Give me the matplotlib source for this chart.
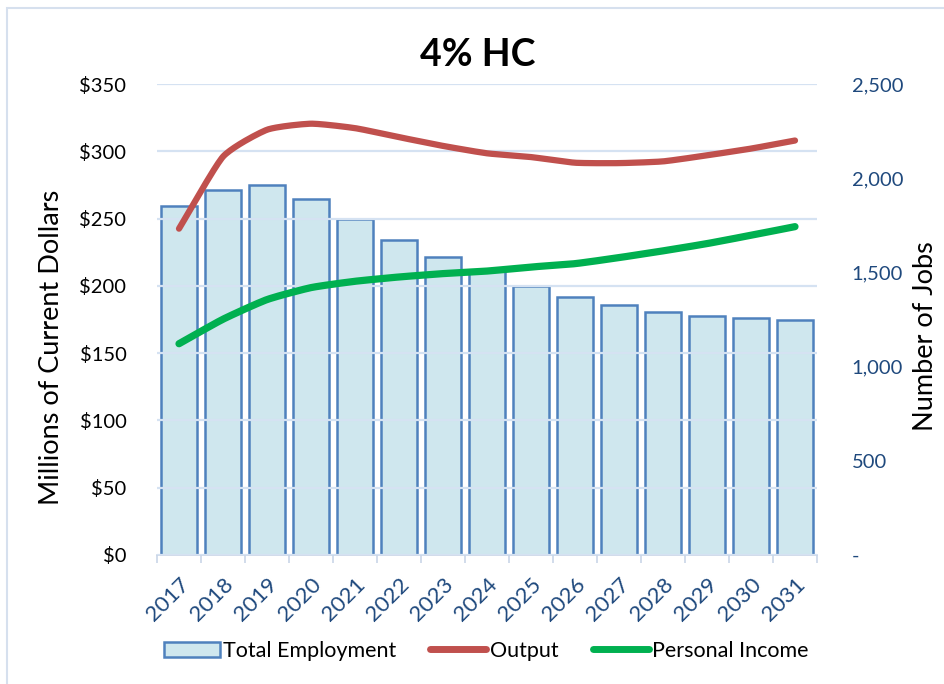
import numpy as np
import matplotlib
matplotlib.use("Agg")
import matplotlib.pyplot as plt
from matplotlib.patches import Rectangle, Patch
from matplotlib.lines import Line2D
from matplotlib.ticker import FuncFormatter, MultipleLocator

plt.rcParams['font.family'] = ['Lato', 'DejaVu Sans']

years = [str(y) for y in range(2017, 2032)]
employment = [1854, 1937, 1962, 1890, 1785, 1672, 1582, 1505, 1429, 1371, 1327, 1290, 1270, 1260, 1249]
output = [242.5, 296, 316, 320.5, 317.2, 310.5, 304, 298.5, 295.7, 291.5, 291.2, 292.5, 297, 302, 308]
income = [157, 175.2, 189.8, 198.7, 203.4, 206.6, 209.1, 211, 214, 216.5, 221, 226, 231.4, 237.6, 244]

title = "4% HC"
left_label = "Millions of Current Dollars"
right_label = "Number of Jobs"


def smooth(xs, ys, n=20, k=0.55):
    # cubic Hermite rendering of a line through the given points (reduced tension)
    xs = np.asarray(xs, float)
    ys = np.asarray(ys, float)
    px = np.concatenate([[2 * xs[0] - xs[1]], xs, [2 * xs[-1] - xs[-2]]])
    py = np.concatenate([[2 * ys[0] - ys[1]], ys, [2 * ys[-1] - ys[-2]]])
    ox, oy = [], []
    t = np.linspace(0, 1, n, endpoint=False)
    h00 = 2 * t ** 3 - 3 * t ** 2 + 1
    h10 = t ** 3 - 2 * t ** 2 + t
    h01 = -2 * t ** 3 + 3 * t ** 2
    h11 = t ** 3 - t ** 2
    for i in range(1, len(px) - 2):
        for arr, out in ((px, ox), (py, oy)):
            p0, p1, p2, p3 = arr[i - 1], arr[i], arr[i + 1], arr[i + 2]
            m1 = k * (p2 - p0) / 2
            m2 = k * (p3 - p1) / 2
            out.extend(h00 * p1 + h10 * m1 + h01 * p2 + h11 * m2)
    ox.append(xs[-1]); oy.append(ys[-1])
    return np.array(ox), np.array(oy)


fig = plt.figure(figsize=(9.45, 6.84), dpi=100)
fig.patches.append(Rectangle((7 / 945, -0.5), 2, 1.5 - 7.5 / 684, transform=fig.transFigure,
                             fill=False, edgecolor='#D6E0EE', linewidth=1.5, zorder=0))

ax = fig.add_axes([157 / 945, 1 - 555 / 684, 660 / 945, 471 / 684])
ax2 = ax.twinx()

x = np.arange(len(years))
ax.bar(x, employment, width=0.8, color='#CFE7EE', edgecolor='#4F81BD', linewidth=1.8, zorder=2)
ax.set_ylim(0, 2500)
ax.set_xlim(-0.5, len(years) - 0.5)
ax.yaxis.tick_right()
ax.yaxis.set_label_position('right')
ax.yaxis.set_major_locator(MultipleLocator(500))
ax.yaxis.set_major_formatter(FuncFormatter(lambda v, p: '-' if v == 0 else f'{int(v):,}'))
ax.tick_params(axis='y', length=0, labelsize=14.5, labelcolor='#1F497D', pad=25)
ax.set_ylabel(right_label, fontsize=19.5, rotation=90)
ax.yaxis.set_label_coords((913 - 157) / 660, 1 - (336 - 84) / 471)

ax.set_xticks(x)
ax.set_xticklabels(years, rotation=45, ha='right', rotation_mode='anchor', fontsize=16, color='#1F497D')
ax.set_xticks(np.arange(-0.5, len(years)), minor=True)
ax.tick_params(axis='x', which='major', length=0, pad=14)
ax.tick_params(axis='x', which='minor', length=6, color='#C9D6E8', width=1.2)

for s in ['top', 'left', 'right']:
    ax.spines[s].set_visible(False)
ax.spines['bottom'].set_color('#C9D6E8')
ax.spines['bottom'].set_linewidth(1.2)
ax.patch.set_visible(False)

# dollars axis (lines) on top
ax2.set_ylim(0, 350)
ax2.yaxis.tick_left()
ax2.yaxis.set_label_position('left')
ax2.yaxis.set_major_locator(MultipleLocator(50))
ax2.yaxis.set_major_formatter(FuncFormatter(lambda v, p: f'${int(v)}'))
ax2.tick_params(axis='y', length=0, labelsize=14.5, labelcolor='black', pad=22)
ax2.set_ylabel(left_label, fontsize=19.5)
ax2.yaxis.set_label_coords((64 - 157) / 660, 1 - (347 - 84) / 471)
ax2.grid(axis='y', color='#D5E2F2', linewidth=1.6, zorder=1)
for s in ax2.spines.values():
    s.set_visible(False)

sx, sy = smooth(x, output)
ax2.plot(sx, sy, color='#C0504D', linewidth=4.5, solid_capstyle='round', zorder=4)
sx, sy = smooth(x, income)
ax2.plot(sx, sy, color='#00B050', linewidth=5.2, solid_capstyle='round', zorder=5)

fig.text(478 / 945, 1 - 55 / 684, title, fontsize=27, fontweight='bold', ha='center', va='center')

handles = [Patch(facecolor='#CFE7EE', edgecolor='#4F81BD', linewidth=1.8),
           Line2D([], [], color='#C0504D', linewidth=5, solid_capstyle='round'),
           Line2D([], [], color='#00B050', linewidth=5, solid_capstyle='round')]
fig.legend(handles, ['Total Employment', 'Output', 'Personal Income'], loc='center',
           bbox_to_anchor=(486 / 945, 1 - 651 / 684), ncol=3, frameon=False, fontsize=15.5,
           handlelength=2.6, handleheight=0.75, handletextpad=0.15, columnspacing=1.6)

fig.savefig('out.png', dpi=100)
